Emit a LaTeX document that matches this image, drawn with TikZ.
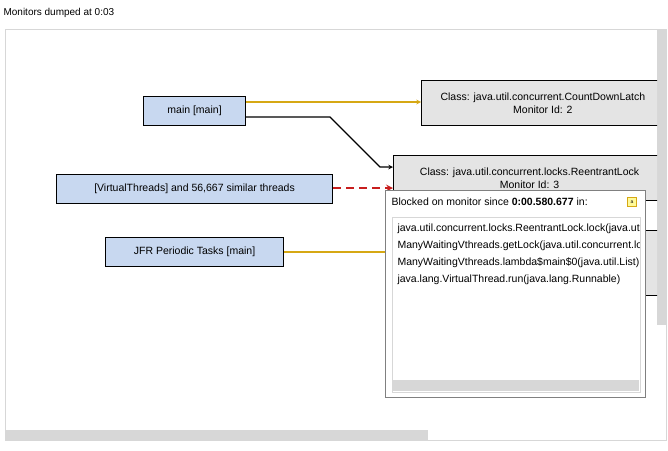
\documentclass[tikz,border=0pt]{standalone}
\usepackage{fontspec}
\setmainfont{Liberation Sans}
\usetikzlibrary{positioning}
\definecolor{thread}{RGB}{200,216,240}
\definecolor{monitor}{RGB}{228,228,228}
\definecolor{owner}{RGB}{214,168,20}
\definecolor{waiting}{RGB}{200,30,30}
\definecolor{bar}{RGB}{215,215,215}
\begin{document}
\begin{tikzpicture}[x=1pt,y=-1pt, every node/.style={font=\fontsize{10.5}{12.5}\selectfont, inner sep=0pt},
  threadbox/.style={draw, fill=thread, minimum height=29pt},
  monbox/.style={draw, fill=monitor, minimum height=45pt, inner xsep=19pt, align=center},
  >=stealth, line width=1.1pt]
\useasboundingbox (0,0) rectangle (668,450);
\node[anchor=west, font=\fontsize{10}{12}\selectfont] (title) at (3,13) {Monitors dumped at 0:03};
\draw[bar, line width=1pt, fill=white] (5,29) rectangle (666,440);
\fill[bar] (657,30) rectangle (666,325);
\fill[bar] (6,430) rectangle (428,440);
% monitors
\begin{scope}
\clip (5,29) rectangle (657,430);
\node[monbox, anchor=north west] (m2) at (421,80) {Class: java.util.concurrent.CountDownLatch\\ Monitor Id: 2};
\node[monbox, minimum width=272pt, anchor=north west] (m3) at (393,155) {Class: java.util.concurrent.locks.ReentrantLock\\ Monitor Id: 3};
\node[monbox, minimum width=300pt, minimum height=65pt, anchor=north west] (m4) at (393,230) {};
\end{scope}
% threads
\node[threadbox, minimum width=102pt, anchor=north west] (t1) at (143,96) {main [main]};
\node[threadbox, minimum width=276pt, anchor=north west] (t2) at (56,174) {[VirtualThreads] and 56,667 similar threads};
\node[threadbox, minimum width=178pt, anchor=north west] (t3) at (105,237) {JFR Periodic Tasks [main]};
\coordinate (bend) at (330,117);
\coordinate (jfrend) at (386,252);
\draw[->, owner] (t1.east |- 0,102) -- (m2.west |- 0,102);
\draw[->] (t1.east |- bend) -- (bend) -- (380,167) -- (m3.west |- 0,167);
\draw[->, waiting, line width=2pt, dash pattern=on 8pt off 5pt] (t2.east |- 0,188) -- (m3.west |- 0,188);
\draw[owner] (t3.east |- jfrend) -- (jfrend);
% popup
\draw[gray, line width=0.8pt, fill=white] (385,190) rectangle (645,397);
\node[anchor=west] (since) at (391,202) {Blocked on monitor since \textbf{0:00.580.677} in:};
\node[draw=owner, line width=0.6pt, fill=yellow!40, minimum size=9pt, font=\fontsize{5}{5}\selectfont] (lock) at (632,202) {a};
\draw[bar, line width=0.8pt, fill=white] (392,217) rectangle (640,392);
\fill[bar] (393,380) rectangle (639,391);
\begin{scope}
\clip (392,217) rectangle (639,392);
\node[anchor=west] (f1) at (397,229) {java.util.concurrent.locks.ReentrantLock.lock(java.util.concurrent)};
\node[anchor=west] (f2) at (397,246) {ManyWaitingVthreads.getLock(java.util.concurrent.locks.Lock)};
\node[anchor=west] (f3) at (397,263) {ManyWaitingVthreads.lambda\$main\$0(java.util.List)};
\node[anchor=west] (f4) at (397,280) {java.lang.VirtualThread.run(java.lang.Runnable)};
\end{scope}
\end{tikzpicture}
\end{document}
